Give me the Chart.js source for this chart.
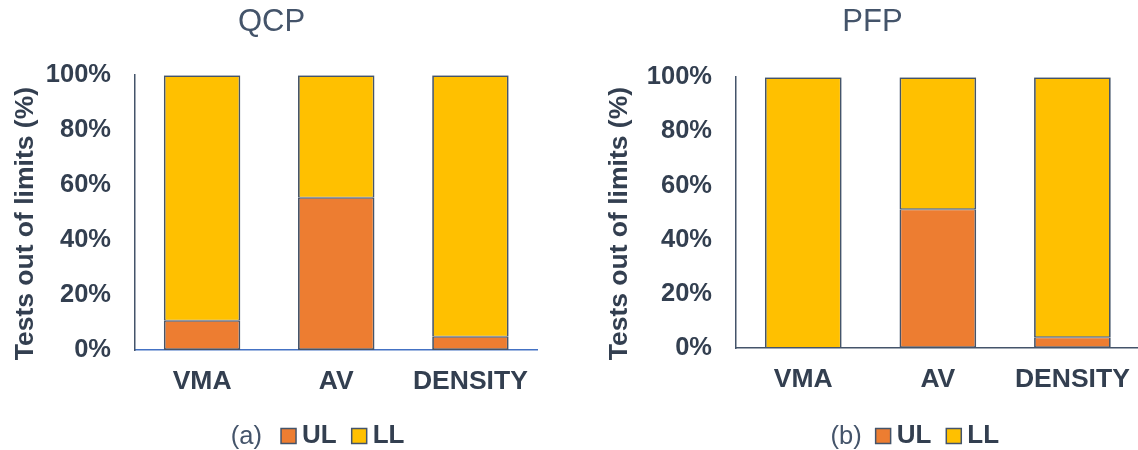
<!DOCTYPE html>
<html>
<head>
<meta charset="utf-8">
<script src="https://cdn.jsdelivr.net/npm/chart.js@4.4.1/dist/chart.umd.min.js"></script>
<style>
  html, body { margin: 0; padding: 0; background: #ffffff; overflow: hidden; width: 1138px; height: 450px; position: relative; }
  .panel { position: absolute; top: 0; height: 460px; }
  #p1 { left: 0; width: 544px; }
  #p2 { left: 600px; width: 546px; }
</style>
</head>
<body>
<div class="panel" id="p1"><canvas id="c1" width="544" height="460"></canvas></div>
<div class="panel" id="p2"><canvas id="c2" width="546" height="460"></canvas></div>
<script>
// ---- data ----
const categories = ["VMA", "AV", "DENSITY"];
const qcpUL = [10.6, 55.4, 4.8];
const qcpLL = [89.4, 44.6, 95.2];
const pfpUL = [0, 51.2, 4.0];
const pfpLL = [100, 48.8, 96.0];
const yTicks = [0, 20, 40, 60, 80, 100];
const seriesNames = ["UL", "LL"];
const panelTitles = ["QCP", "PFP"];
const panelTags = ["(a)", "(b)"];
const yAxisTitle = "Tests out of limits (%)";

const ORANGE = "#ED7D31", YELLOW = "#FFC000", EDGE = "#44546A", TXT = "#333F50";
const FONT = "'Liberation Sans', Arial, sans-serif";

const tagPlugin = {
  id: "tagPlugin",
  afterLayout(chart, args, opts) {
    const lg = chart.legend;
    if (lg) { lg.left += opts.shift; lg.right += opts.shift; }
  },
  afterDraw(chart, args, opts) {
    const lg = chart.legend;
    if (!lg || !lg.legendHitBoxes || !lg.legendHitBoxes.length) return;
    const hb = lg.legendHitBoxes[0];
    const ctx = chart.ctx;
    ctx.save();
    ctx.font = "25.5px " + FONT;
    ctx.fillStyle = "#44546A";
    ctx.textAlign = "right";
    ctx.textBaseline = "middle";
    ctx.fillText(opts.text, hb.left - opts.gap, hb.top + hb.height / 2 + 1);
    ctx.restore();
  }
};

function makeChart(id, cfg) {
  return new Chart(document.getElementById(id), {
    type: "bar",
    data: {
      labels: categories,
      datasets: [
        { label: seriesNames[0], data: cfg.ul, backgroundColor: ORANGE, borderColor: EDGE,
          borderWidth: { top: 1, left: 1.75, right: 1.75, bottom: 1.75 }, borderSkipped: false,
          categoryPercentage: 1.0, barPercentage: 0.57 },
        { label: seriesNames[1], data: cfg.ll, backgroundColor: YELLOW, borderColor: EDGE,
          borderWidth: { top: 1.75, left: 1.75, right: 1.75, bottom: 1 }, borderSkipped: false,
          categoryPercentage: 1.0, barPercentage: 0.57 }
      ]
    },
    plugins: [tagPlugin],
    options: {
      responsive: false,
      animation: false,
      layout: { padding: { left: 0, right: 1, top: 0, bottom: 1 } },
      plugins: {
        tagPlugin: { text: cfg.tag, shift: cfg.legendShift, gap: cfg.tagGap },
        title: {
          display: true, text: cfg.title, color: "#44546A",
          font: { family: FONT, size: 31, weight: "normal" },
          padding: { top: 4, bottom: cfg.titleBottom }
        },
        legend: {
          display: true, position: "bottom", fullSize: false,
          labels: {
            color: TXT, usePointStyle: true, pointStyle: "rect", boxWidth: 1, boxHeight: 15, padding: 22,
            font: { family: FONT, size: 26, weight: "bold" },
            generateLabels(chart) {
              return chart.data.datasets.map((ds, i) => ({
                text: ds.label, fillStyle: ds.backgroundColor, strokeStyle: EDGE,
                lineWidth: 1.5, pointStyle: "rect", hidden: false, datasetIndex: i, fontColor: TXT
              }));
            }
          }
        },
        tooltip: { enabled: false }
      },
      scales: {
        x: {
          stacked: true,
          grid: { display: false, drawTicks: false },
          border: { display: true, color: cfg.xBorder, width: 1.5 },
          ticks: { color: TXT, padding: 16, font: { family: FONT, size: 26.5, weight: "bold" } },
          afterFit(scale) { scale.height = cfg.xHeight; }
        },
        y: {
          stacked: true, min: 0, max: 100,
          afterBuildTicks(scale) { scale.ticks = yTicks.map(v => ({ value: v })); },
          grid: { display: false, drawTicks: false },
          border: { display: true, color: EDGE, width: 1.5 },
          ticks: { color: TXT, padding: 24, font: { family: FONT, size: 25.5, weight: "bold" }, callback: v => v + "%" },
          title: {
            display: true, text: yAxisTitle + "   ", color: TXT,
            font: { family: FONT, size: 26.5, weight: "bold" },
            padding: { top: cfg.yTitlePad, bottom: 0 }
          },
          afterFit(scale) { scale.width = cfg.yWidth; }
        }
      }
    }
  });
}

makeChart("c1", { title: panelTitles[0], tag: panelTags[0], ul: qcpUL, ll: qcpLL, xBorder: "#4472C4",
  titleBottom: 34, xHeight: 51, yWidth: 135, yTitlePad: 10, legendShift: 10, tagGap: 26 });
makeChart("c2", { title: panelTitles[1], tag: panelTags[1], ul: pfpUL, ll: pfpLL, xBorder: EDGE,
  titleBottom: 36, xHeight: 53, yWidth: 136, yTitlePad: 4, legendShift: 3, tagGap: 21 });
</script>
</body>
</html>
